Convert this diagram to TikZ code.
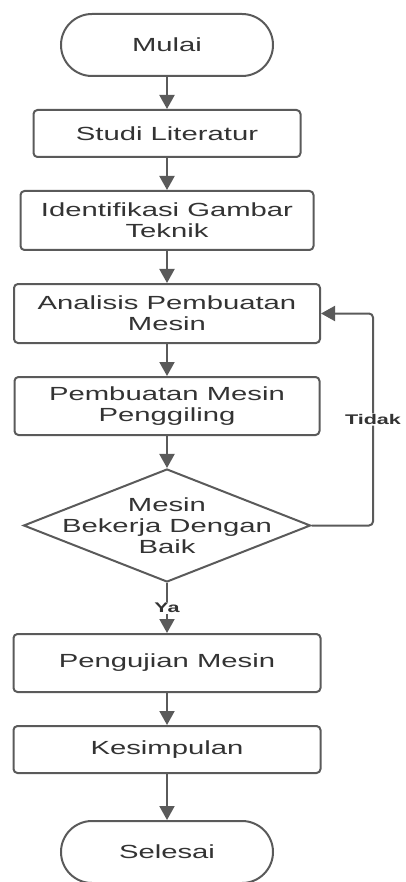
\documentclass[tikz,border=0pt]{standalone}
\usepackage{fontspec}
\setmainfont{Liberation Sans}[FakeStretch=1.54]
\usetikzlibrary{positioning,shapes.geometric,arrows.meta}
\definecolor{linegray}{HTML}{5A5A5A}
\definecolor{textgray}{HTML}{333333}

\begin{document}
\begin{tikzpicture}[
    x=1pt, y=1pt,
    node distance=32pt,
    every node/.style={text=textgray, font=\fontsize{19}{21}\selectfont},
    term/.style={draw=linegray, line width=2pt, rounded corners=31pt, minimum width=212pt, minimum height=62pt},
    box/.style={draw=linegray, line width=2pt, rounded corners=4pt, minimum width=307pt, minimum height=59pt, align=center, inner sep=2pt},
    dec/.style={draw=linegray, line width=2pt, diamond, minimum width=287pt, minimum height=113pt, inner sep=0pt},
    lbl/.style={fill=white, font=\fontsize{14}{16}\selectfont\bfseries, inner sep=1pt},
    arr/.style={-{Triangle[length=14pt,width=15pt]}, line width=2pt, draw=linegray}
]
\useasboundingbox (0,0) rectangle (405,-882);

% Main flow down the centre
\node[term] (start) at (167,-45) {Mulai};
\node[box, below=of start, minimum width=267pt, minimum height=47pt] (studi) {Studi Literatur};
\node[box, below=of studi, minimum width=293pt] (ident) {Identifikasi Gambar\\Teknik};
\node[box, below=of ident, minimum width=306pt] (anal) {Analisis Pembuatan\\Mesin};
\node[box, below=of anal, minimum width=305pt, minimum height=58pt] (buat) {Pembuatan Mesin\\Penggiling};
\node[dec, below=of buat, label={[align=center]center:Mesin\\Bekerja Dengan\\Baik}] (cek) {};
\node[box, below=50pt of cek, minimum height=58pt] (uji) {Pengujian Mesin};
\node[box, below=of uji, minimum height=47pt] (simp) {Kesimpulan};
\node[term, below=46pt of simp] (end) {Selesai};

% Loop back on the right side
\coordinate (loopx) at (373,0);

\draw[arr] (start) -- (studi);
\draw[arr] (studi) -- (ident);
\draw[arr] (ident) -- (anal);
\draw[arr] (anal) -- (buat);
\draw[arr] (buat) -- (cek);
\draw[arr] (cek.south) -- node[lbl] {Ya} (uji.north);
\draw[arr] (uji) -- (simp);
\draw[arr] (simp) -- (end);

% Tidak: back to the analysis
\draw[arr, rounded corners=4pt] (cek.east) -- (cek.east -| loopx) -- node[lbl] {Tidak} (anal.east -| loopx) -- (anal.east);
\end{tikzpicture}
\end{document}
